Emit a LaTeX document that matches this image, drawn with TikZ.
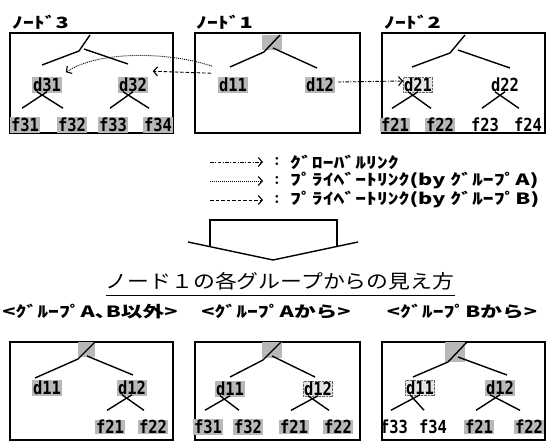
\documentclass[tikz,border=0pt]{standalone}
\usepackage{fontspec}
\usepackage{graphicx}
\setmonofont{DejaVu Sans Mono}
\newfontfamily\jp{Noto Sans CJK JP}
\usetikzlibrary{arrows.meta,calc}
\newcommand\lab[1]{\scalebox{0.86}[1]{\fontsize{18}{18}\selectfont\ttfamily\bfseries #1}}
\newcommand\hwt[1]{\scalebox{1.4}[1]{\fontsize{15.5}{15.5}\selectfont\jp\bfseries #1}}
\newcommand\xx[3]{%
  \draw[tr] ($(#1.south)+(0,-1)$) -- ($(#2.north)+(-3,-9)$);
  \draw[tr] ($(#1.south)+(-10,-1)$) -- ($(#3.north)+(-9,-9)$);}
\tikzset{
  lbl/.style={inner sep=0.6pt},
  sh/.style={lbl, fill=black!28},
  shd/.style={lbl, fill=black!10, draw=black!60, densely dotted},
  tr/.style={line width=1.4pt},
  box/.style={draw, line width=1.2pt},
  arr/.style={line width=0.9pt, -{Straight Barb[length=4pt,width=9pt,line width=1.1pt]}},
  dashdotlink/.style={arr, dash pattern=on 3.5pt off 1.5pt on 1pt off 1.5pt},
  dotlink/.style={arr, dash pattern=on 1pt off 1pt},
  dashlink/.style={arr, dash pattern=on 3.5pt off 2pt},
  rootsq/.style={fill=black!28, draw=none},
  txt/.style={inner sep=0pt}
}
\begin{document}
\begin{tikzpicture}[x=1pt,y=-1pt]
\path[use as bounding box] (0,0) rectangle (546,441);

% ---------------- top boxes ----------------
\draw[box] (10,33) rectangle (173,133);
\draw[box] (195,33) rectangle (360,133);
\draw[box] (382,33) rectangle (545,133);
\node[txt, anchor=base west] (n3) at (12,29) {\hwt{ﾉｰﾄﾞ3}};
\node[txt, anchor=base west] (n1) at (196,29) {\hwt{ﾉｰﾄﾞ1}};
\node[txt, anchor=base west] (n2) at (384,29) {\hwt{ﾉｰﾄﾞ2}};

% node 3 tree
\coordinate (t3) at (90,35); \coordinate (r3) at (79,51); \coordinate (r3b) at (84,49);
\coordinate (l3) at (42,65); \coordinate (q3) at (128,64);
\draw[tr] (t3) -- (r3) -- (l3); \draw[tr] (r3b) -- (q3);
\node[sh] (d31) at (47,85) {\lab{d31}};
\node[sh] (d32) at (133,85) {\lab{d32}};
\node[sh] (f31) at (25,125) {\lab{f31}};
\node[sh] (f32) at (72,125) {\lab{f32}};
\node[sh] (f33) at (113,125) {\lab{f33}};
\node[sh] (f34) at (158,125) {\lab{f34}};
\xx{d31}{f31}{f32}
\xx{d32}{f33}{f34}

% node 1 tree
\fill[rootsq] (262,35) rectangle (282,50);
\coordinate (t1) at (280,35); \coordinate (r1) at (264,52); \coordinate (r1b) at (273,48);
\coordinate (l1) at (230,67); \coordinate (q1) at (317,68);
\draw[tr] (t1) -- (r1) -- (l1); \draw[tr] (r1b) -- (q1);
\node[sh] (d11) at (233,85) {\lab{d11}};
\node[sh] (d12) at (320,85) {\lab{d12}};

% node 2 tree
\coordinate (t2) at (465,35); \coordinate (r2) at (450,53); \coordinate (r2b) at (458,50);
\coordinate (l2) at (412,67); \coordinate (q2) at (510,68);
\draw[tr] (t2) -- (r2) -- (l2); \draw[tr] (r2b) -- (q2);
\node[shd] (d21) at (418,85) {\lab{d21}};
\node[lbl] (d22) at (505,85) {\lab{d22}};
\node[sh] (f21) at (395,125) {\lab{f21}};
\node[sh] (f22) at (440,125) {\lab{f22}};
\node[lbl] (f23) at (485,125) {\lab{f23}};
\node[lbl] (f24) at (528,125) {\lab{f24}};
\xx{d21}{f21}{f22}
\xx{d22}{f23}{f24}

% links
\draw[dotlink] ($(d11.north west)+(-6,-11)$) .. controls (170,52) and (100,50) .. ($(d31.north east)+(4,-5)$);
\draw[dashlink] ($(d11.north west)+(-7,-4)$) -- ($(d32.north east)+(5,-6)$);
\draw[dashdotlink] ($(d12.east)+(3,-3)$) -- ($(d21.west)+(0,-4)$);

% ---------------- legend ----------------
\coordinate (la1) at (210,162); \coordinate (lb1) at (263,162);
\coordinate (la2) at (210,181); \coordinate (lb2) at (263,181);
\coordinate (la3) at (210,200); \coordinate (lb3) at (263,200);
\draw[dashdotlink] (la1) -- (lb1);
\draw[dotlink] (la2) -- (lb2);
\draw[dashlink] (la3) -- (lb3);
\node[txt] (c1) at (277,162) {\fontsize{18}{18}\selectfont\bfseries :};
\node[txt] (c2) at (277,181) {\fontsize{18}{18}\selectfont\bfseries :};
\node[txt] (c3) at (277,200) {\fontsize{18}{18}\selectfont\bfseries :};
\node[txt, anchor=west] (g1) at (290,162) {\hwt{ｸﾞﾛｰﾊﾞﾙﾘﾝｸ}};
\node[txt, anchor=west] (g2) at (290,181) {\hwt{ﾌﾟﾗｲﾍﾞｰﾄﾘﾝｸ(by ｸﾞﾙｰﾌﾟA)}};
\node[txt, anchor=west] (g3) at (290,200) {\hwt{ﾌﾟﾗｲﾍﾞｰﾄﾘﾝｸ(by ｸﾞﾙｰﾌﾟB)}};

% ---------------- big arrow ----------------
\draw[line width=1.4pt] (188,242) -- (273,260) -- (358,242);
\draw[line width=1.2pt] (210,246.7) -- (210,220) -- (337,220) -- (337,246.4);

% ---------------- title ----------------
\node[txt] (title) at (280,281) {\scalebox{1.15}[1]{\fontsize{19}{19}\selectfont\jp ノード１の各グループからの見え方}};
\coordinate (u1) at (106,295); \coordinate (u2) at (455,295);
\draw[line width=1pt] (u1) -- (u2);

\node[txt] (s1) at (90,312) {\hwt{<ｸﾞﾙｰﾌﾟA､B以外>}};
\node[txt] (s2) at (276,312) {\hwt{<ｸﾞﾙｰﾌﾟAから>}};
\node[txt] (s3) at (462,312) {\hwt{<ｸﾞﾙｰﾌﾟBから>}};

% ---------------- bottom boxes ----------------
\draw[box] (10,342) rectangle (173,440);
\draw[box] (195,342) rectangle (360,440);
\draw[box] (382,342) rectangle (545,440);

% box A
\fill[rootsq] (78,342) rectangle (95,357);
\coordinate (ta) at (95,342); \coordinate (ra) at (78,359); \coordinate (rab) at (87,356);
\coordinate (la) at (35,378); \coordinate (qa) at (133,375);
\draw[tr] (ta) -- (ra) -- (la); \draw[tr] (rab) -- (qa);
\node[sh] (ad11) at (47,388) {\lab{d11}};
\node[sh] (ad12) at (132,388) {\lab{d12}};
\node[sh] (af21) at (110,427) {\lab{f21}};
\node[sh] (af22) at (153,427) {\lab{f22}};
\xx{ad12}{af21}{af22}

% box B
\fill[rootsq] (262,342) rectangle (282,358);
\coordinate (tb) at (281,342); \coordinate (rb) at (263,360); \coordinate (rbb) at (272,356);
\coordinate (lb) at (230,377); \coordinate (qb) at (315,377);
\draw[tr] (tb) -- (rb) -- (lb); \draw[tr] (rbb) -- (qb);
\node[sh] (bd11) at (230,389) {\lab{d11}};
\node[shd] (bd12) at (318,389) {\lab{d12}};
\node[sh] (bf31) at (208,427) {\lab{f31}};
\node[sh] (bf32) at (248,427) {\lab{f32}};
\node[sh] (bf21) at (294,427) {\lab{f21}};
\node[sh] (bf22) at (338,427) {\lab{f22}};
\xx{bd11}{bf31}{bf32}
\xx{bd12}{bf21}{bf22}

% box C
\fill[rootsq] (445,342) rectangle (465,362);
\coordinate (tc) at (467,342); \coordinate (rc) at (448,362); \coordinate (rcb) at (458,357);
\coordinate (lc) at (413,377); \coordinate (qc) at (507,375);
\draw[tr] (tc) -- (rc) -- (lc); \draw[tr] (rcb) -- (qc);
\node[shd] (cd11) at (420,388) {\lab{d11}};
\node[sh] (cd12) at (500,388) {\lab{d12}};
\node[lbl] (cf33) at (394,427) {\lab{f33}};
\node[lbl] (cf34) at (433,427) {\lab{f34}};
\node[sh] (cf21) at (479,427) {\lab{f21}};
\node[sh] (cf22) at (529,427) {\lab{f22}};
\xx{cd11}{cf33}{cf34}
\xx{cd12}{cf21}{cf22}
\end{tikzpicture}
\end{document}
